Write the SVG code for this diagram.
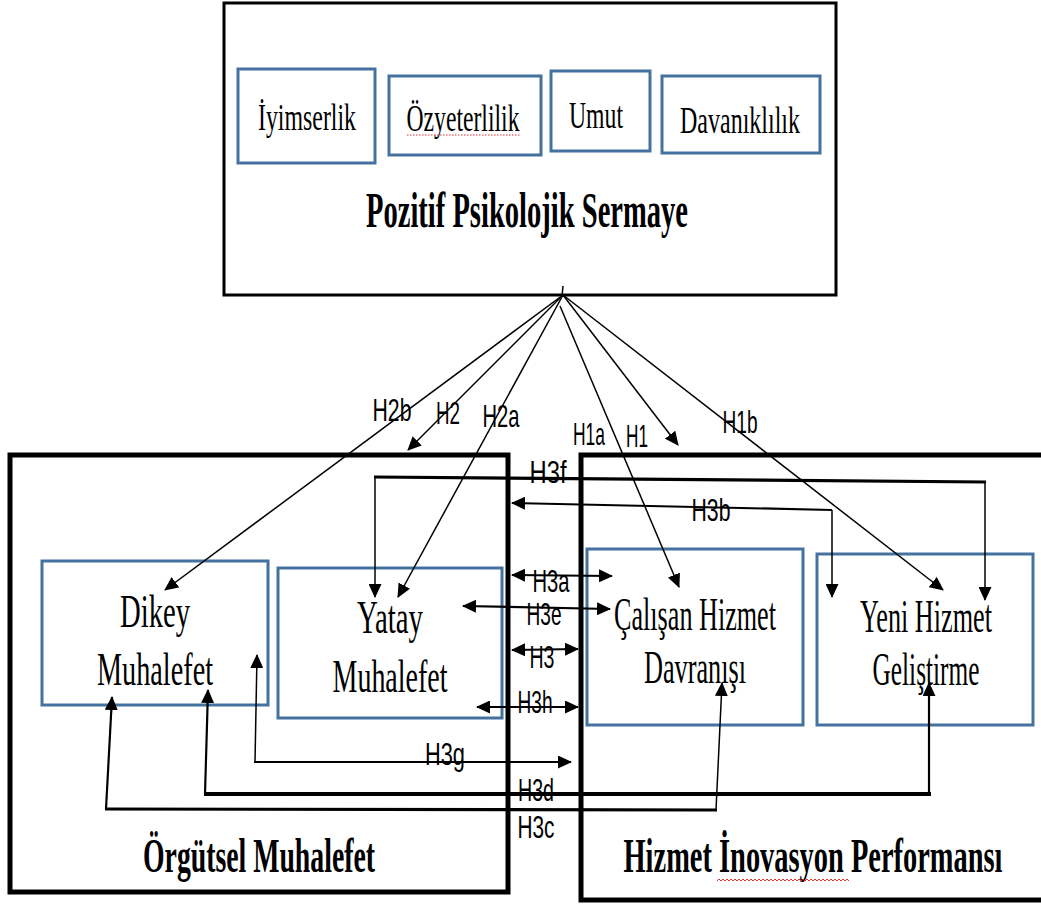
<svg xmlns="http://www.w3.org/2000/svg" width="1041" height="905" viewBox="0 0 1041 905">
<style>
.bg{fill:#ffffff}
.outer{fill:none;stroke:#000;stroke-width:3}
.group{fill:none;stroke:#000;stroke-width:5}
.item{fill:#ffffff;stroke:#4472a0;stroke-width:3}
.t{font-family:"Liberation Serif","Times New Roman",serif;fill:#000;text-anchor:middle}
.tb{font-family:"Liberation Serif","Times New Roman",serif;font-weight:bold;fill:#000;text-anchor:middle}
.lbl{font-family:"Liberation Sans",Arial,sans-serif;font-size:32px;fill:#000;text-anchor:middle}
.c{fill:none;stroke:#000;stroke-width:1.5}
.c2{fill:none;stroke:#000;stroke-width:2.2}
.c3{fill:none;stroke:#000;stroke-width:3.2}
.c4{fill:none;stroke:#000;stroke-width:4}
.ae{marker-end:url(#ah)}
.as{marker-start:url(#ah)}
</style>
<defs>
<marker id="ah" viewBox="0 0 14 13" refX="13" refY="6.5" markerWidth="14" markerHeight="13" markerUnits="userSpaceOnUse" orient="auto-start-reverse">
<path d="M0,0 L14,6.5 L0,13 z" fill="#000"/>
</marker>
</defs>
<rect class="bg" x="0" y="0" width="1041" height="905"/>

<g id="pozitif-psikolojik-sermaye">
<rect class="outer" x="224" y="3" width="612" height="292"/>
<text class="tb" x="527" y="227" font-size="51" textLength="322" lengthAdjust="spacingAndGlyphs">Pozitif Psikolojik Sermaye</text>
</g>
<g id="iyimserlik">
<rect class="item" x="238" y="69" width="137" height="94"/>
<text class="t" x="307" y="130" font-size="37" textLength="98" lengthAdjust="spacingAndGlyphs">İyimserlik</text>
</g>
<g id="ozyeterlilik">
<rect class="item" x="389" y="76" width="152" height="79"/>
<text class="t" x="463" y="131" font-size="37" textLength="113" lengthAdjust="spacingAndGlyphs">Özyeterlilik</text>
<line x1="407" y1="135" x2="520" y2="135" stroke="#e03030" stroke-width="1.2" stroke-dasharray="1.5,1.5"/>
</g>
<g id="umut">
<rect class="item" x="551" y="71" width="99" height="80"/>
<text class="t" x="596" y="128" font-size="37" textLength="54" lengthAdjust="spacingAndGlyphs">Umut</text>
</g>
<g id="davaniklilik">
<rect class="item" x="662" y="76" width="158" height="77"/>
<text class="t" x="740" y="133" font-size="37" textLength="120" lengthAdjust="spacingAndGlyphs">Davanıklılık</text>
</g>

<g id="orgutsel-muhalefet">
<rect class="group" x="10" y="455" width="498" height="437"/>
<text class="tb" x="259" y="872" font-size="48" textLength="232" lengthAdjust="spacingAndGlyphs">Örgütsel Muhalefet</text>
</g>
<g id="hizmet-inovasyon-performansi">
<rect class="group" x="581" y="455" width="480" height="445"/>
<text class="tb" x="813" y="872" font-size="48" textLength="379" lengthAdjust="spacingAndGlyphs">Hizmet İnovasyon Performansı</text>
<path d="M717,881 l2,-2 l2,2 l2,-2 l2,2 l2,-2 l2,2 l2,-2 l2,2 l2,-2 l2,2 l2,-2 l2,2 l2,-2 l2,2 l2,-2 l2,2 l2,-2 l2,2 l2,-2 l2,2 l2,-2 l2,2 l2,-2 l2,2 l2,-2 l2,2 l2,-2 l2,2 l2,-2 l2,2 l2,-2 l2,2 l2,-2 l2,2 l2,-2 l2,2 l2,-2 l2,2 l2,-2 l2,2 l2,-2 l2,2 l2,-2 l2,2 l2,-2 l2,2 l2,-2 l2,2 l2,-2 l2,2 l2,-2 l2,2 l2,-2 l2,2 l2,-2 l2,2 l2,-2 l2,2 l2,-2 l2,2 l2,-2 l2,2 l2,-2 l2,2 l2,-2 l2,2" fill="none" stroke="#e03030" stroke-width="1"/>
</g>

<g id="dikey-muhalefet">
<rect class="item" x="42" y="561" width="226" height="144"/>
<text class="t" x="155" y="627" font-size="46" textLength="70" lengthAdjust="spacingAndGlyphs">Dikey</text>
<text class="t" x="155" y="685" font-size="46" textLength="116" lengthAdjust="spacingAndGlyphs">Muhalefet</text>
</g>
<g id="yatay-muhalefet">
<rect class="item" x="278" y="568" width="224" height="150"/>
<text class="t" x="390" y="633" font-size="46" textLength="66" lengthAdjust="spacingAndGlyphs">Yatay</text>
<text class="t" x="390" y="692" font-size="46" textLength="115" lengthAdjust="spacingAndGlyphs">Muhalefet</text>
</g>
<g id="calisan-hizmet-davranisi">
<rect class="item" x="587" y="549" width="216" height="176"/>
<text class="t" x="695" y="630" font-size="46" textLength="162" lengthAdjust="spacingAndGlyphs">Çalışan Hizmet</text>
<text class="t" x="695" y="683" font-size="46" textLength="102" lengthAdjust="spacingAndGlyphs">Davranışı</text>
</g>
<g id="yeni-hizmet-gelistirme">
<rect class="item" x="817" y="554" width="216" height="171"/>
<text class="t" x="926" y="632" font-size="46" textLength="132" lengthAdjust="spacingAndGlyphs">Yeni Hizmet</text>
<text class="t" x="926" y="685" font-size="46" textLength="107" lengthAdjust="spacingAndGlyphs">Geliştirme</text>
</g>

<g id="connectors">
<path class="c ae" d="M563,295 L165,590"/>
<path class="c ae" d="M563,295 L408,450"/>
<path class="c ae" d="M563,295 L398,597"/>
<path class="c ae" d="M560,306 L679,587"/>
<path class="c ae" d="M563,295 L678,445"/>
<path class="c ae" d="M563,295 L943,590"/>
<line x1="563" y1="286" x2="562" y2="296" stroke="#000" stroke-width="1.5"/>

<path class="c3" d="M374,477 L986,482"/>
<path class="c ae" d="M375,477 L375,597"/>
<path class="c ae" d="M985,482 L985,600"/>

<path class="c2 ae" d="M832,510 L512,503"/>
<path class="c ae" d="M832,510 L832,597"/>

<path class="c2 as ae" d="M512,575 L612,576"/>
<path class="c2 as ae" d="M463,606 L610,609"/>
<path class="c2 as ae" d="M512,650 L578,649"/>
<path class="c2 as ae" d="M477,707 L578,707"/>

<path class="c as" d="M257,655 L255,762"/>
<path class="c2 ae" d="M254,762 L571,762"/>

<path class="c2 as" d="M208,690 L205,794"/>
<path class="c4" d="M204,794 L931,794"/>
<path class="c2 ae" d="M929,794 L929,683"/>

<path class="c2 as" d="M112,697 L106,809"/>
<path class="c3" d="M105,809 L717,810"/>
<path class="c ae" d="M716,810 L722,683"/>

<text class="lbl" x="392" y="421" textLength="39" lengthAdjust="spacingAndGlyphs">H2b</text>
<text class="lbl" x="448" y="424" textLength="24" lengthAdjust="spacingAndGlyphs">H2</text>
<text class="lbl" x="501" y="427" textLength="37" lengthAdjust="spacingAndGlyphs">H2a</text>
<text class="lbl" x="589" y="445" textLength="32" lengthAdjust="spacingAndGlyphs">H1a</text>
<text class="lbl" x="637" y="447" textLength="22" lengthAdjust="spacingAndGlyphs">H1</text>
<text class="lbl" x="740" y="433" textLength="35" lengthAdjust="spacingAndGlyphs">H1b</text>
<text class="lbl" x="548" y="483" textLength="37" lengthAdjust="spacingAndGlyphs">H3f</text>
<text class="lbl" x="711" y="521" textLength="39" lengthAdjust="spacingAndGlyphs">H3b</text>
<text class="lbl" x="551" y="592" textLength="37" lengthAdjust="spacingAndGlyphs">H3a</text>
<text class="lbl" x="544" y="625" textLength="35" lengthAdjust="spacingAndGlyphs">H3e</text>
<text class="lbl" x="542" y="668" textLength="25" lengthAdjust="spacingAndGlyphs">H3</text>
<text class="lbl" x="535" y="713" textLength="35" lengthAdjust="spacingAndGlyphs">H3h</text>
<text class="lbl" x="445" y="765" textLength="40" lengthAdjust="spacingAndGlyphs">H3g</text>
<text class="lbl" x="536" y="801" textLength="36" lengthAdjust="spacingAndGlyphs">H3d</text>
<text class="lbl" x="536" y="838" textLength="37" lengthAdjust="spacingAndGlyphs">H3c</text>
</g>
</svg>
